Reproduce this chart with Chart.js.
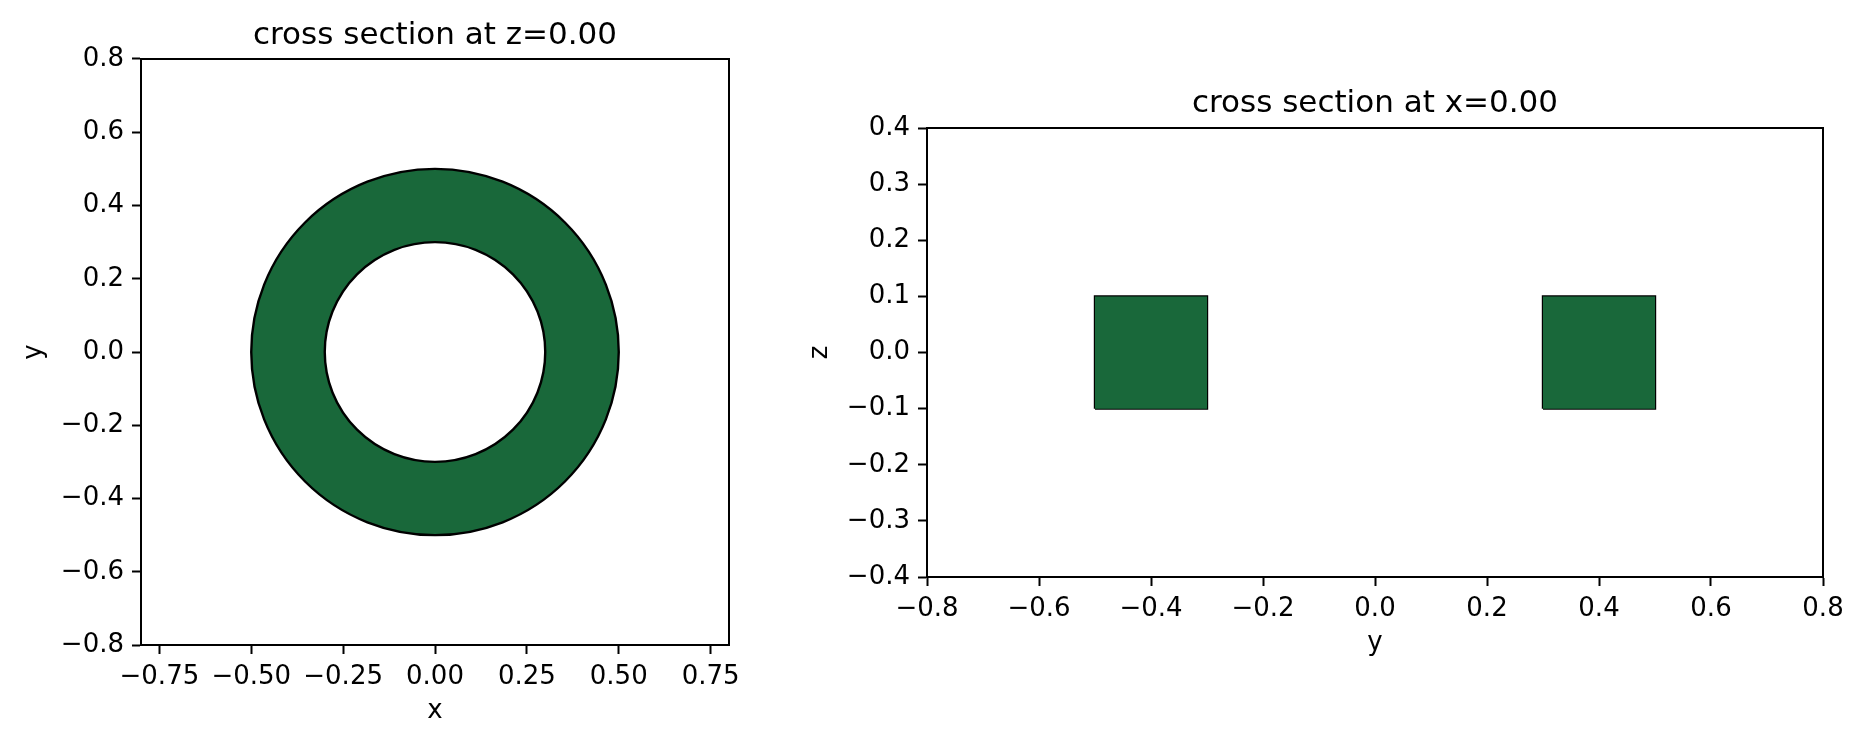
<!DOCTYPE html>
<html>
<head>
<meta charset="utf-8">
<script src="https://cdn.jsdelivr.net/npm/chart.js@4.4.1/dist/chart.umd.min.js"></script>
<style>
  html, body { margin: 0; padding: 0; background: #fff; }
  #page { position: relative; width: 1865px; height: 748px; overflow: hidden; }
  .box { position: absolute; top: 0; height: 748px; }
  #left { left: 0; width: 790px; }
  #right { left: 790px; width: 1075px; }
</style>
</head>
<body>
<div id="page">
  <div class="box" id="left"><canvas id="cz"></canvas></div>
  <div class="box" id="right"><canvas id="cx"></canvas></div>
</div>
<script>
// --- data ---
// left panel: cross section at z=0 -> a ring (annulus) centred at the origin
const ringCenter = [0.0, 0.0];
const ringOuterR = 0.5;
const ringInnerR = 0.3;
const leftXTicks = [-0.75, -0.5, -0.25, 0, 0.25, 0.5, 0.75];
const leftYTicks = [-0.8, -0.6, -0.4, -0.2, 0, 0.2, 0.4, 0.6, 0.8];

// right panel: cross section at x=0 -> two squares
const rectY0 = [-0.5, 0.3];
const rectY1 = [-0.3, 0.5];
const rectZ0 = [-0.1, -0.1];
const rectZ1 = [0.1, 0.1];
const rightXTicks = [-0.8, -0.6, -0.4, -0.2, 0, 0.2, 0.4, 0.6, 0.8];
const rightYTicks = [-0.4, -0.3, -0.2, -0.1, 0, 0.1, 0.2, 0.3, 0.4];

const GREEN = "#19683a";
const FONT = "DejaVu Sans";

Chart.defaults.color = "#000";
Chart.defaults.font.family = FONT;

// formatea como o matplotlib (sinal de menos unicode)
function fmt(dec) {
    return v => (v < -1e-9 ? "\u2212" : "") + Math.abs(v).toFixed(dec);
}

function axis(pos, min, max, ticks, dec, title, fitSize, titlePad) {
    return {
        type: "linear",
        position: pos,
        min: min,
        max: max,
        afterBuildTicks: s => { s.ticks = ticks.map(v => ({ value: v })); },
        afterFit: s => {
            if (pos === "left") s.width = fitSize; else s.height = fitSize;
        },
        grid: { display: true, drawOnChartArea: false, drawTicks: true, tickLength: 9, tickColor: "#000", tickWidth: 2 },
        border: { display: true, color: "#000", width: 2 },
        ticks: { autoSkip: false, maxRotation: 0, padding: 8, font: { size: 26 }, callback: fmt(dec) },
        title: { display: true, text: title, font: { size: 26 }, padding: titlePad }
    };
}

// título centrado sobre a área do gráfico (como no matplotlib)
const centerTitlePlugin = {
    id: "centerTitle",
    afterLayout(chart) {
        const t = chart.titleBlock;
        if (!t) return;
        t.left = chart.chartArea.left;
        t.right = chart.chartArea.right;
        t.width = t.right - t.left;
    }
};

// moldura completa do eixo (spines)
const framePlugin = {
    id: "frame",
    afterDatasetsDraw(chart) {
        const a = chart.chartArea, ctx = chart.ctx;
        ctx.save();
        ctx.strokeStyle = "#000";
        ctx.lineWidth = 2;
        ctx.strokeRect(a.left, a.top, a.right - a.left, a.bottom - a.top);
        ctx.restore();
    }
};

// anel desenhado pelas escalas do próprio chart
const ringPlugin = {
    id: "ring",
    beforeDatasetsDraw(chart) {
        const xs = chart.scales.x, ys = chart.scales.y, ctx = chart.ctx;
        const cx = xs.getPixelForValue(ringCenter[0]);
        const cy = ys.getPixelForValue(ringCenter[1]);
        const rxo = xs.getPixelForValue(ringCenter[0] + ringOuterR) - cx;
        const ryo = cy - ys.getPixelForValue(ringCenter[1] + ringOuterR);
        const rxi = xs.getPixelForValue(ringCenter[0] + ringInnerR) - cx;
        const ryi = cy - ys.getPixelForValue(ringCenter[1] + ringInnerR);
        ctx.save();
        ctx.beginPath();
        ctx.ellipse(cx, cy, rxo, ryo, 0, 0, Math.PI * 2);
        ctx.moveTo(cx + rxi, cy);
        ctx.ellipse(cx, cy, rxi, ryi, 0, 0, Math.PI * 2);
        ctx.fillStyle = GREEN;
        ctx.fill("evenodd");
        ctx.strokeStyle = "#000";
        ctx.lineWidth = 2.4;
        ctx.beginPath();
        ctx.ellipse(cx, cy, rxo, ryo, 0, 0, Math.PI * 2);
        ctx.stroke();
        ctx.beginPath();
        ctx.ellipse(cx, cy, rxi, ryi, 0, 0, Math.PI * 2);
        ctx.stroke();
        ctx.restore();
    }
};

// ============================================================
// painel esquerdo: z = 0
// ============================================================
new Chart(document.getElementById("cz"), {
    type: "line",
    data: { datasets: [] },
    options: {
        responsive: true,
        maintainAspectRatio: false,
        devicePixelRatio: 1,
        animation: false,
        layout: { padding: { top: 17.4, left: 0, right: 61, bottom: 17 } },
        plugins: {
            legend: { display: false },
            tooltip: { enabled: false },
            title: { display: true, text: "cross section at z=0.00", font: { size: 31, weight: "normal" }, padding: { top: 0, bottom: 4.4 } }
        },
        scales: {
            x: axis("bottom", -0.8, 0.8, leftXTicks, 2, "x", 86, { top: 0, bottom: 4 }),
            y: axis("left", -0.8, 0.8, leftYTicks, 1, "y", 141, { top: 19, bottom: 0 })
        }
    },
    plugins: [centerTitlePlugin, ringPlugin, framePlugin]
});

// ============================================================
// painel direito: x = 0
// ============================================================
const rectSets = [];
rectY0.forEach((y0, i) => {
    // preenchimento: aresta superior preenchida até a inferior
    rectSets.push({
        data: [{ x: y0, y: rectZ1[i] }, { x: rectY1[i], y: rectZ1[i] }],
        borderWidth: 0,
        pointRadius: 0,
        backgroundColor: GREEN,
        fill: { value: rectZ0[i] }
    });
    // contorno
    rectSets.push({
        data: [
            { x: y0, y: rectZ0[i] }, { x: y0, y: rectZ1[i] },
            { x: rectY1[i], y: rectZ1[i] }, { x: rectY1[i], y: rectZ0[i] },
            { x: y0, y: rectZ0[i] }
        ],
        borderColor: "#000",
        borderWidth: 2.4,
        pointRadius: 0,
        fill: false,
        tension: 0
    });
});

new Chart(document.getElementById("cx"), {
    type: "line",
    data: { datasets: rectSets },
    options: {
        responsive: true,
        maintainAspectRatio: false,
        devicePixelRatio: 1,
        animation: false,
        layout: { padding: { top: 85.4, left: 0, right: 42, bottom: 85 } },
        plugins: {
            legend: { display: false },
            tooltip: { enabled: false },
            title: { display: true, text: "cross section at x=0.00", font: { size: 31, weight: "normal" }, padding: { top: 0, bottom: 5.4 } }
        },
        scales: {
            x: axis("bottom", -0.8, 0.8, rightXTicks, 1, "y", 86, { top: 0, bottom: 4 }),
            y: axis("left", -0.4, 0.4, rightYTicks, 1, "z", 137, { top: 14.4, bottom: 0 })
        }
    },
    plugins: [centerTitlePlugin, framePlugin]
});
</script>
</body>
</html>
